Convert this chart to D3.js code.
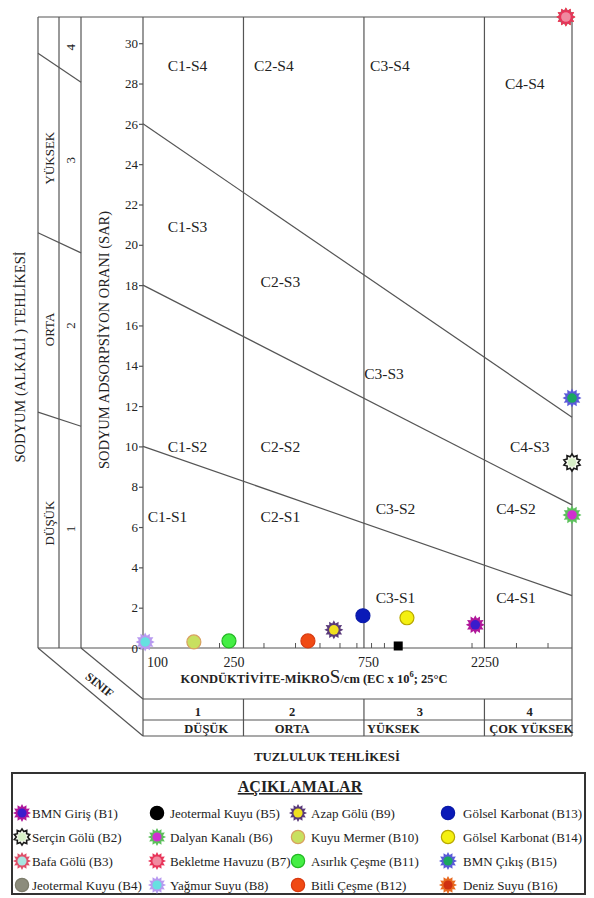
<!DOCTYPE html>
<html><head><meta charset="utf-8">
<script src="https://cdn.jsdelivr.net/npm/d3@7"></script>
<style>
body{margin:0;background:#fff}
svg{display:block}
text{font-family:"Liberation Serif","Times New Roman",serif;fill:#222}
</style>
</head><body><svg id="c" width="594" height="898"></svg>
<script>
// ---------- data ----------
const yTicks = [0,2,4,6,8,10,12,14,16,18,20,22,24,26,28,30];
const xTicks = [100,250,750,2250];
const xMinorTicks = [200,300,400,500,600,700,800,900,1000,2000,3000,4000];
const classBounds = [250,750,2250];
// SAR boundary lines: value at EC=100 and at EC=5000
const sarLineStart = [26,18,10];
const sarLineEnd = [11.45,7.1,2.6];
// left side-panel boundaries (SAR at outer and inner edge)
const panelStart = [29.5,20.6,11.7];
const panelEnd = [28.06,19.6,11.0];
const regionLabels = ["C1-S4","C2-S4","C3-S4","C4-S4","C1-S3","C2-S3","C3-S3","C4-S3","C1-S2","C2-S2","C3-S2","C4-S2","C1-S1","C2-S1","C3-S1","C4-S1"];
const regionEC = [150,330,950,3250,150,350,900,3400,150,350,1000,3000,125,350,1000,3000];
const regionSAR = [28.9,28.9,28.9,28.0,20.9,18.2,13.6,10.0,10.0,10.0,6.9,6.9,6.5,6.5,2.5,2.5];
const classNums = ["1","2","3","4"];
const classNames = ["DÜŞÜK","ORTA","YÜKSEK","ÇOK YÜKSEK"];
const classNumEC = [165,390,1250,3400];
const classNameEC = [178,390,980,3450];

const sampleNames = ["BMN Giriş (B1)","Serçin Gölü (B2)","Bafa Gölü (B3)","Jeotermal Kuyu (B4)",
  "Jeotermal Kuyu (B5)","Dalyan Kanalı (B6)","Bekletme Havuzu (B7)","Yağmur Suyu (B8)",
  "Azap Gölü (B9)","Kuyu Mermer (B10)","Asırlık Çeşme (B11)","Bitli Çeşme (B12)",
  "Gölsel Karbonat (B13)","Gölsel Karbonat (B14)","BMN Çıkış (B15)","Deniz Suyu (B16)"];
const ecValues  = [2070,5000,4730,4730,1025,5000,4730,102,570,159,219,450,743,1110,5000,4730];
const sarValues = [1.15,9.2,31.3,31.3,0.1,6.6,31.3,0.3,0.9,0.3,0.35,0.35,1.6,1.5,12.4,31.3];
const markerShape = ["star","starline","star","circle","circle","star","star","star","star","circle","circle","circle","circle","circle","star","star"];
const outerColor = ["#b0179a","#1a1a1a","#e0506a","#7d7d6c","#000000","#5cc05c","#e8355a","#b89af0","#5a3a7a","#d8a060","#22b822","#d83a10","#0a1aa8","#b8a800","#5a5ad8","#e86a20"];
const innerColor = ["#3a1ccc","#d8f0c8","#a8e4e0","#8c8c7c","#000000","#d030d0","#f08aa0","#66e0e0","#f0e020","#c8e060","#44ee44","#f04a14","#0a1ab8","#f4f010","#1aa860","#d03010"];
const plotOrder = [15,2,3,6,0,1,4,5,7,8,9,10,11,12,13,14];

// ---------- scales ----------
const svg = d3.select("#c");
const x = d3.scaleLog().domain([100,5000]).range([143,572]);
const y = d3.scaleLinear().domain([0,31.3]).range([648,17]);
const lineCol = "#555";
const xLeftOuter = 38, xLeftMid = 59, xLeftInner = 81;
const yBottomTable = 736, yTable1 = 699, yTable2 = 720;

const g = svg.append("g");
function ln(x1,y1,x2,y2,w){g.append("line").attr("x1",x1).attr("y1",y1).attr("x2",x2).attr("y2",y2).attr("stroke",lineCol).attr("stroke-width",w||1.2);}

// frame
ln(xLeftOuter,y(31.3),x(5000),y(31.3));
[xLeftOuter,xLeftMid,xLeftInner].forEach(v=>ln(v,y(31.3),v,y(0)));
ln(x(100),y(31.3),x(100),yBottomTable);
ln(x(5000),y(31.3),x(5000),yBottomTable);
ln(xLeftOuter,y(0),x(5000),y(0));
classBounds.forEach(v=>{ln(x(v),y(31.3),x(v),y(0)); ln(x(v),yTable1,x(v),yBottomTable);});
[yTable1,yTable2,yBottomTable].forEach(v=>ln(x(100),v,x(5000),v));
ln(xLeftOuter,y(0),x(100),yBottomTable);
ln(xLeftInner,y(0),x(100),yTable1);
sarLineStart.forEach((s,i)=>ln(x(100),y(s),x(5000),y(sarLineEnd[i])));
panelStart.forEach((s,i)=>ln(xLeftOuter,y(s),xLeftInner,y(panelEnd[i])));

// axes
const ya = g.append("g").attr("transform",`translate(${x(100)},0)`)
  .call(d3.axisLeft(y).tickValues(yTicks).tickSize(4).tickSizeOuter(0).tickPadding(1));
ya.select(".domain").remove();
ya.selectAll("line").attr("stroke",lineCol).attr("stroke-width",1.2);
ya.selectAll("text").attr("font-size",13).attr("font-family","Liberation Serif").attr("fill","#222");

const xm = g.append("g").attr("transform",`translate(0,${y(0)})`)
  .call(d3.axisBottom(x).tickValues(xMinorTicks).tickSize(-5).tickFormat(""));
xm.select(".domain").remove();
xm.selectAll("line").attr("stroke",lineCol).attr("stroke-width",1);

const xa = g.append("g").attr("transform",`translate(0,${y(0)})`)
  .call(d3.axisBottom(x).tickValues(xTicks).tickSize(0).tickPadding(9).tickFormat(d3.format("d")));
xa.select(".domain").remove();
xa.selectAll("text").attr("font-size",14).attr("font-family","Liberation Serif").attr("fill","#222")
  .attr("dx",d=>d===100?14:(d===250?-10:(d===750?4:0)));

// x-axis title
const xt = g.append("text").attr("x",314).attr("y",683).attr("text-anchor","middle").attr("font-size",12.5).attr("font-weight","bold");
xt.append("tspan").text("KONDÜKTİVİTE-MİKRO");
xt.append("tspan").attr("font-size",19).attr("font-weight","normal").text("S");
xt.append("tspan").text("/cm (EC x 10");
xt.append("tspan").attr("font-size",8.5).attr("dy",-6).text("6");
xt.append("tspan").attr("dy",6).text("; 25°C");

// class table
classNums.forEach((t,i)=>g.append("text").attr("x",x(classNumEC[i])).attr("y",716).attr("text-anchor","middle").attr("font-size",12.5).attr("font-weight","bold").text(t));
classNames.forEach((t,i)=>g.append("text").attr("x",x(classNameEC[i])).attr("y",732.5).attr("text-anchor","middle").attr("font-size",12.5).attr("font-weight","bold").text(t));
g.append("text").attr("x",327).attr("y",761).attr("text-anchor","middle").attr("font-size",12.8).attr("font-weight","bold").text("TUZLULUK TEHLİKESİ");

// SINIF
g.append("text").attr("transform","translate(97,688) rotate(39)").attr("text-anchor","middle").attr("font-size",12).attr("font-weight","bold").text("SINIF");

// region labels
regionLabels.forEach((t,i)=>g.append("text").attr("x",x(regionEC[i])).attr("y",y(regionSAR[i])).attr("text-anchor","middle").attr("dy","0.35em").attr("font-size",15.5).attr("fill","#1a1a1a").text(t));

// y titles
g.append("text").attr("transform","translate(109,340) rotate(-90)").attr("text-anchor","middle").attr("font-size",14.5).text("SODYUM ADSORPSİYON ORANI (SAR)");
g.append("text").attr("transform","translate(25,357) rotate(-90)").attr("text-anchor","middle").attr("font-size",14.5).text("SODYUM  (ALKALİ ) TEHLİKESİ");
const panelWords = ["YÜKSEK","ORTA","DÜŞÜK"], panelWordSAR=[24.3,15.8,6.2];
panelWords.forEach((t,i)=>g.append("text").attr("transform",`translate(${(xLeftOuter+xLeftMid)/2+5},${y(panelWordSAR[i])}) rotate(-90)`).attr("text-anchor","middle").attr("font-size",13).text(t));
const panelNums = ["4","3","2","1"], panelNumSAR=[29.8,24.2,16.0,5.9];
panelNums.forEach((t,i)=>g.append("text").attr("transform",`translate(${(xLeftMid+xLeftInner)/2+5},${y(panelNumSAR[i])}) rotate(-90)`).attr("text-anchor","middle").attr("font-size",13).text(t));

// markers
function starPath(ro,ri,n){const pts=[];for(let k=0;k<2*n;k++){const a=Math.PI*k/n-Math.PI/2;const r=k%2?ri:ro;pts.push([r*Math.cos(a),r*Math.sin(a)]);}return "M"+pts.map(p=>p.join(",")).join("L")+"Z";}
function drawMarker(sel,i,s){
  const shp=markerShape[i];
  if(shp==="circle"){
    sel.append("circle").attr("r",7*s).attr("fill",innerColor[i]).attr("stroke",outerColor[i]).attr("stroke-width",1.2);
  } else if(shp==="star"){
    sel.append("path").attr("d",starPath(9.5*s,6.5*s,12)).attr("fill",outerColor[i]);
    sel.append("circle").attr("r",4.8*s).attr("fill",innerColor[i]);
  } else {
    sel.append("path").attr("d",starPath(8.5*s,6*s,10)).attr("fill","#f4f8ec").attr("stroke",outerColor[i]).attr("stroke-width",1.6);
    sel.append("circle").attr("r",4.2*s).attr("fill",innerColor[i]);
  }
}
plotOrder.forEach(i=>{
  const m=g.append("g").attr("transform",`translate(${x(ecValues[i])},${y(sarValues[i])})`);
  if(i===4){ m.append("rect").attr("x",-4.5).attr("y",-4.5).attr("width",9).attr("height",9).attr("fill","#000"); }
  else drawMarker(m,i,1);
});

// legend
const lg = svg.append("g");
lg.append("rect").attr("x",12).attr("y",773).attr("width",573).attr("height",121).attr("fill","#fff").attr("stroke","#333").attr("stroke-width",2);
lg.append("text").attr("x",300).attr("y",792).attr("text-anchor","middle").attr("font-size",16).attr("font-weight","bold").attr("text-decoration","underline").text("AÇIKLAMALAR");
const colMarkerX=[22,157,298,448], colTextX=[32,170,311,463], rowY=[813,837,861,885];
sampleNames.forEach((t,i)=>{
  const c=Math.floor(i/4), r=i%4;
  const m=lg.append("g").attr("transform",`translate(${colMarkerX[c]},${rowY[r]})`);
  drawMarker(m,i,0.95);
  lg.append("text").attr("x",colTextX[c]).attr("y",rowY[r]).attr("dy","0.35em").attr("font-size",13).attr("fill","#333").text(t);
});
</script></body></html>
